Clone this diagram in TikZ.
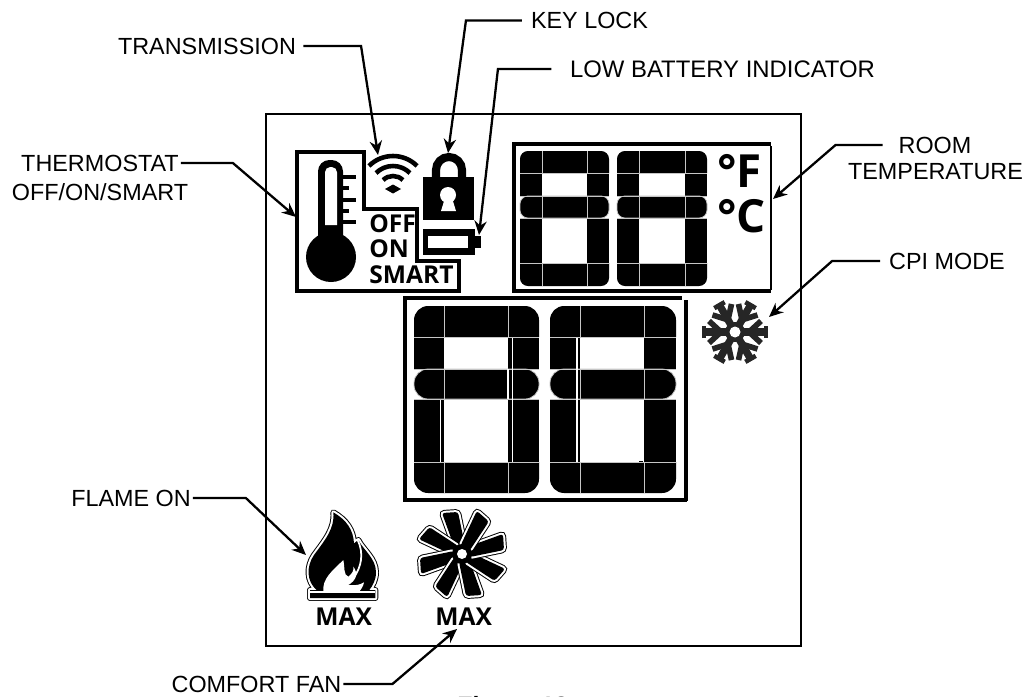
\documentclass[tikz,border=0pt]{standalone}
\usepackage{fontspec}
\setmainfont{Liberation Sans}
\newfontfamily\lcdfont{Open Sans}
\usetikzlibrary{arrows.meta,calc}

\tikzset{
  callout/.style={draw=black, line width=1.3pt, -{Stealth[length=8pt,width=7pt]}},
  label/.style={inner sep=1pt, font=\fontsize{13.3}{16}\selectfont},
  lcdtext/.style={inner sep=0pt, anchor=base west, font=\lcdfont\bfseries\fontsize{14}{16}\selectfont},
  lcdbox/.style={draw=black, line width=2.2pt},
  lcdgrid/.style={draw=gray!45, line width=0.45pt}
}

\begin{document}
\begin{tikzpicture}[x=0.02cm, y=-0.02cm]
\clip (0,0) rectangle (1026,696);
\fill[white] (0,0) rectangle (1026,696);

% outer frame and display boxes
\draw[draw=black, line width=1.4pt] (266,114) rectangle (801,646);
\draw[lcdbox, line join=miter] (297,152) -- (364,152) -- (364,209) -- (417,209) -- (417,261) -- (459,261) -- (459,291) -- (297,291) -- cycle;
\draw[lcdbox] (512,144) -- (771,144);
\draw[lcdbox] (514,146) -- (514,291) -- (771,291);
\draw[draw=black, line width=1.4pt] (771,146) -- (771,290);
\draw[lcdbox] (405,298) -- (682,298);
\draw[lcdbox] (405,296) -- (405,500) -- (687,500);
\draw[lcdbox] (686,300) -- (686,501);

% digits
\foreach \xa/\xb/\xc/\xd/\ya/\yb/\yc/\yd/\ye/\yf/\rad in {
  520/542/587/609/151/173/196/218/263/286/4.5,
  617/639/685/707/151/173/196/218/263/286/4.5,
  414/444/508/539/306/337/369/399/462/493/8,
  550/580/644/676/306/337/369/399/462/493/8} {
  \fill (\xa,\yb) [rounded corners=\rad pt] -- (\xa,\ya) -- (\xd,\ya) [sharp corners] -- (\xd,\yb) -- cycle;
  \fill (\xa,\ye) [rounded corners=\rad pt] -- (\xa,\yf) -- (\xd,\yf) [sharp corners] -- (\xd,\ye) -- cycle;
  \fill (\xa,\yb) rectangle (\xb,\yc);
  \fill (\xc,\yb) rectangle (\xd,\yc);
  \fill (\xa,\yd) rectangle (\xb,\ye);
  \fill (\xc,\yd) rectangle (\xd,\ye);
  \fill[rounded corners=\rad pt] (\xa,\yc) rectangle (\xd,\yd);
  \draw[lcdgrid, rounded corners=\rad pt] (\xa,\yc) rectangle (\xd,\yd);
  \draw[lcdgrid] (\xa,\yb) -- (\xd,\yb) (\xa,\yc) -- (\xd,\yc) (\xa,\yd) -- (\xd,\yd) (\xa,\ye) -- (\xd,\ye);
  \draw[lcdgrid] (\xb,\ya) -- (\xb,\yb) (\xc,\ya) -- (\xc,\yb) (\xb,\yc) -- (\xb,\yd) (\xc,\yc) -- (\xc,\yd) (\xb,\ye) -- (\xb,\yf) (\xc,\ye) -- (\xc,\yf);
}
\draw[draw=white, line width=0.6pt] (512.5,338) -- (512.5,462) (508,369) -- (508,399) (440.5,400) -- (440.5,462) (577,338) -- (577,462);
\fill (639,460.5) rectangle (643,462);

% thermometer
\fill (331,257) circle (25);
\fill (318,245) [rounded corners=6.5pt] -- (318,160) -- (343,160) [sharp corners] -- (343,245) -- cycle;
\fill[white] (325,225) [rounded corners=3pt] -- (325,167) -- (337,167) [sharp corners] -- (337,225) -- cycle;
\foreach \y/\x in {177/356, 188/349, 200/356, 211/349, 222/356}
  \draw[draw=black, line width=2.3pt] (343,\y) -- (\x,\y);
\node[lcdtext] (off) at (369,232) {OFF};
\node[lcdtext] (on) at (369,257) {ON};
\node[lcdtext] (smart) at (369,283) {SMART};

% wifi
\foreach \r in {14,24,34}
  \draw[draw=black, line width=2.6pt] ($(393,190)+(-135:\r)$) arc[start angle=-135, end angle=-45, radius=\r];
\fill (385,189) -- (393,184.5) -- (401,189) -- (393,193.5) -- cycle;

% lock and battery
\fill (423,177) rectangle (474,220);
\draw[draw=black, line width=4.6pt] (436,177) -- (436,170) arc[start angle=180, end angle=360, radius=13] -- (462,177);
\fill[white] (448,195) circle (8);
\fill[white] (445,198) -- (452,198) -- (456,211) -- (441,211) -- cycle;
\fill (423,229) rectangle (475,255);
\fill[white] (428,236) rectangle (468,248);
\fill (475,236) rectangle (481,248);

% degree signs
\node[lcdtext, font=\lcdfont\bfseries\fontsize{26}{30}\selectfont] (degf) at (717,187) {°F};
\node[lcdtext, font=\lcdfont\bfseries\fontsize{26}{30}\selectfont] (degc) at (717,232) {°C};

% snowflake
\foreach \a in {30,90,...,330} {
  \begin{scope}[shift={(735,332)}, rotate=\a, color=black!85]
    \draw[line width=4.2pt] (0,0) -- (0,-33);
    \draw[line width=3.2pt] (0,-14) -- (-11,-26) (0,-14) -- (11,-26);
    \draw[line width=2.6pt] (-6,-31) -- (6,-31);
  \end{scope}
}
\fill[black!85] (735,332) circle (10);
\fill[white] (735,332) circle (5.5);

% flame
\begin{scope}[shift={(290,495)}, x=0.00667cm, y=-0.00667cm]
  \def\flamepath{(80,285) .. controls (50,260) and (48,215) .. (72,180) .. controls (105,135) and (135,100) .. (130,52) .. controls (170,75) and (190,105) .. (192,145) -- (205,135) .. controls (220,165) and (258,190) .. (258,232) .. controls (258,255) and (248,272) .. (238,285) -- (256,285) -- (256,309) -- (60,309) -- (60,285) -- cycle}
  \draw[draw=black, line width=3.4pt, line join=round] \flamepath;
  \draw[draw=white, line width=2.3pt, line join=round] \flamepath;
  \fill \flamepath;
  \fill[white] (100,292) .. controls (95,250) and (130,225) .. (160,195) .. controls (165,220) and (160,240) .. (175,245) .. controls (188,235) and (192,225) .. (190,215) .. controls (205,235) and (200,255) .. (175,270) .. controls (195,272) and (210,270) .. (222,262) .. controls (220,275) and (212,285) .. (205,292) -- cycle;
  \draw[draw=white, line width=1pt] (203,135) .. controls (222,175) and (215,215) .. (190,250);
  \draw[draw=white, line width=1.1pt] (60,291) -- (256,291);
\end{scope}
\node[lcdtext] (maxflame) at (315,625) {MAX};

% fan
\foreach \a in {0,45,...,315} {
  \begin{scope}[shift={(462,554)}, rotate=\a]
    \def\bladepath{(-7,-5) -- (-20,-41) -- (-4,-42) -- (3,-8) -- cycle}
    \draw[draw=black, line width=3.4pt, rounded corners=1.5pt] \bladepath;
    \draw[draw=white, line width=2.3pt, rounded corners=1.5pt] \bladepath;
    \fill[rounded corners=1.5pt] \bladepath;
  \end{scope}
}
\fill (462,554) circle (10);
\fill[white] (462,554) circle (5);
\node[lcdtext] (maxfan) at (435,625) {MAX};

% labels
\node[label] (transmission) at (207,46) {TRANSMISSION};
\node[label] (keylock) at (589.5,20.5) {KEY LOCK};
\node[label, font=\fontsize{13.6}{16}\selectfont] (lowbattery) at (722.5,69) {LOW BATTERY INDICATOR};
\node[label] (thermostat) at (100,163) {THERMOSTAT};
\node[label] (thermostatb) at (100,192) {OFF/ON/SMART};
\node[label] (room) at (935,145) {ROOM};
\node[label] (temperature) at (935.5,172) {TEMPERATURE};
\node[label] (cpimode) at (947,261) {CPI MODE};
\node[label] (flameon) at (131,498) {FLAME ON};
\node[label] (comfortfan) at (256.5,684) {COMFORT FAN};
\node[inner sep=0pt, anchor=base west, font=\bfseries\fontsize{14.2}{16}\selectfont] (figcaption) at (457,714) {Figure 18};

\coordinate (wifitip) at (378,155);
\coordinate (locktip) at (448,153);
\coordinate (batterytip) at (479,235);
\coordinate (thermotip) at (296,217);
\coordinate (roomtip) at (773,199);
\coordinate (snowtip) at (769,317);
\coordinate (flametip) at (306,555);
\coordinate (fantip) at (457,629);

\draw[callout, shorten <=3pt] (transmission.east) -- ++(63,0) -- (wifitip);
\draw[callout, shorten <=4pt] (keylock.west) -- ++(-63,0) -- (locktip);
\draw[callout, shorten <=9.5pt] (lowbattery.west) -- ++(-70,0) -- (batterytip);
\draw[callout] (thermostat.east) -- ++(52,0) -- (thermotip);
\draw[callout, shorten <=8pt] (room.west) -- ++(-61,0) -- (roomtip);
\draw[callout, shorten <=4pt] (cpimode.west) -- ++(-55,0) -- (snowtip);
\draw[callout] (flameon.east) -- ++(53,0) -- (flametip);
\draw[callout] (comfortfan.east) -- ++(49,0) -- (fantip);
\end{tikzpicture}
\end{document}
